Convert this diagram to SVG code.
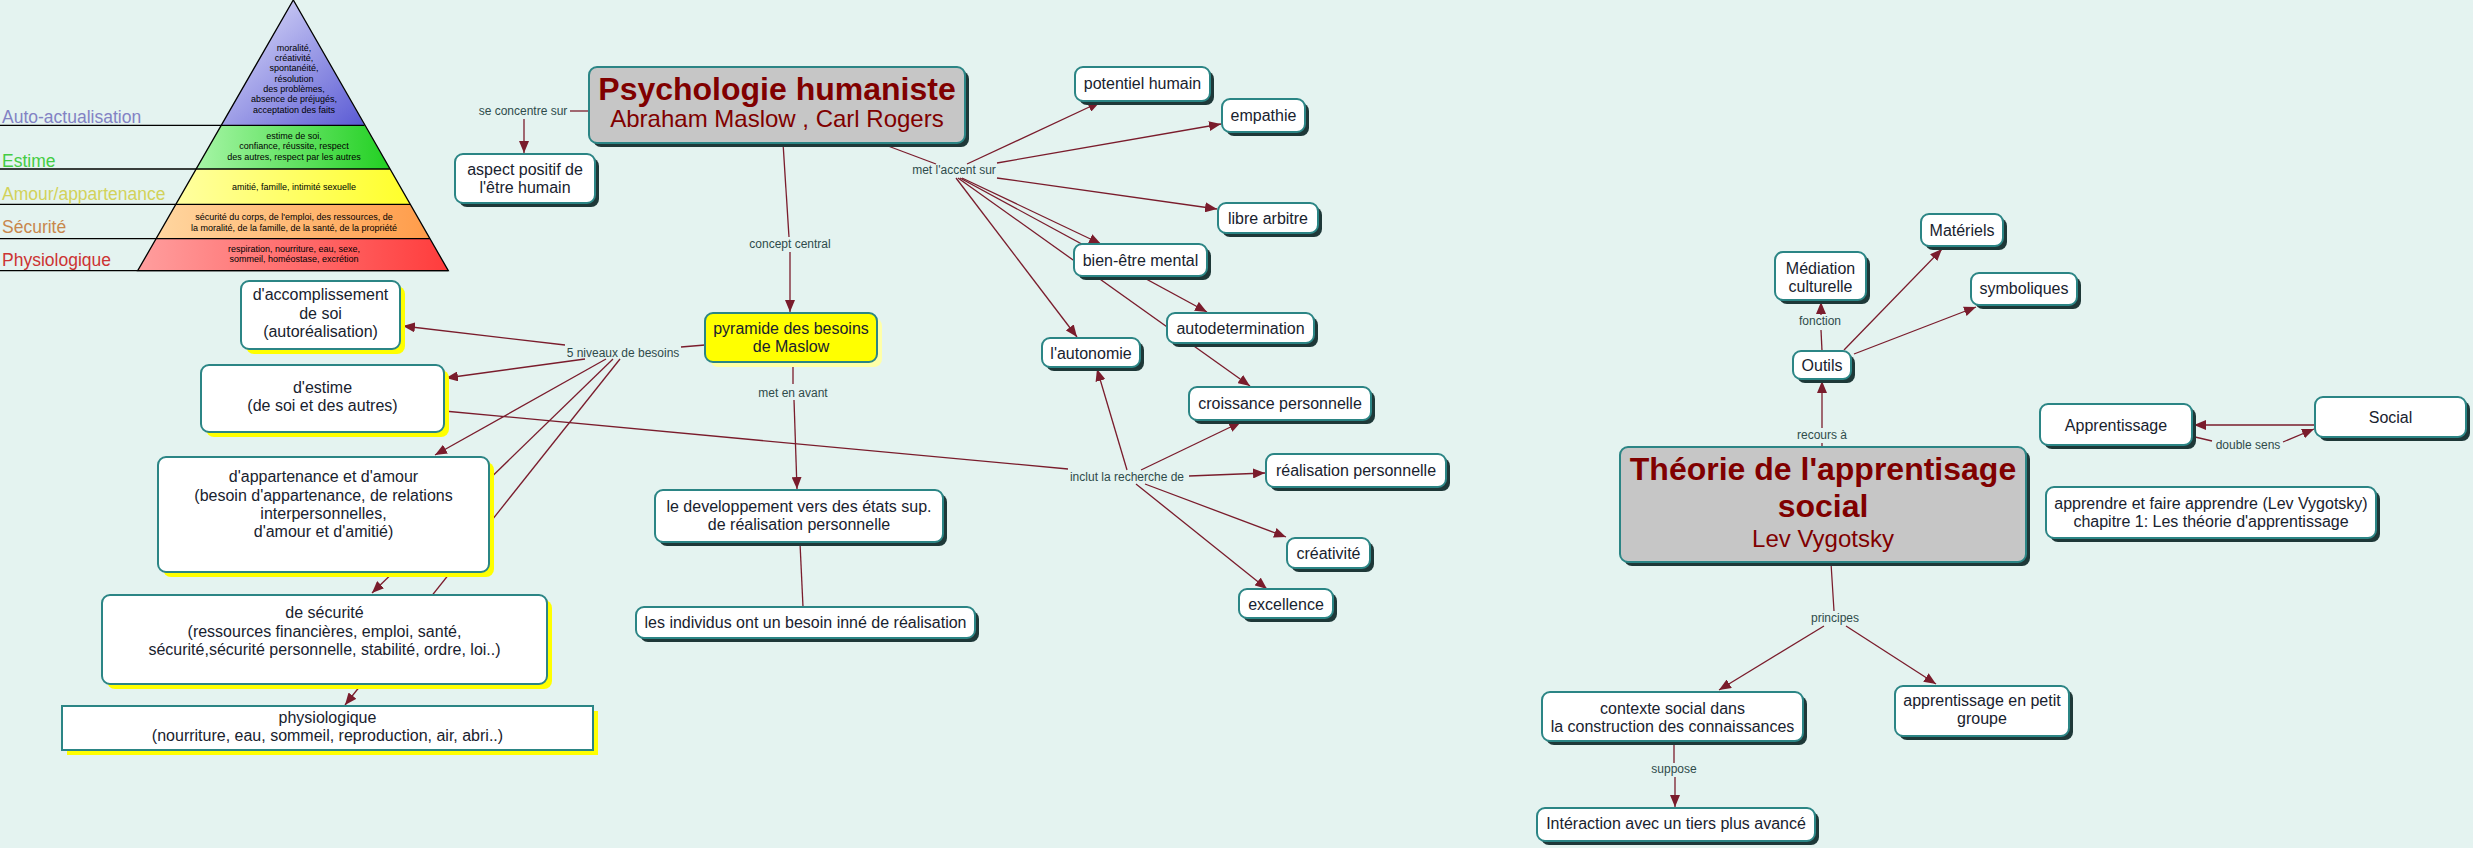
<svg xmlns="http://www.w3.org/2000/svg" width="2473" height="848" viewBox="0 0 2473 848">
<defs>
<style>
.sh{fill:#1e3838}
.ys{fill:#ffff00}
.pys{fill:#ffffa8}
.box{fill:#ffffff;stroke:#2b8585;stroke-width:2}
.gray{fill:#c6c6c6}
.yel{fill:#ffff00}
.t{font-family:"Liberation Sans",Arial,sans-serif;font-size:16px;fill:#18222e;text-anchor:middle}
.ti{font-family:"Liberation Sans",Arial,sans-serif;font-size:32px;font-weight:bold;fill:#800000;text-anchor:middle}
.st{font-family:"Liberation Sans",Arial,sans-serif;font-size:24px;fill:#800000;text-anchor:middle}
.lb{font-family:"Liberation Sans",Arial,sans-serif;font-size:12px;fill:#2f4b4b;text-anchor:middle}
.c{fill:none;stroke:#7a1c2c;stroke-width:1.3}
.a{marker-end:url(#ah)}
.pt{font-family:"Liberation Sans",Arial,sans-serif;font-size:9px;fill:#000;text-anchor:middle}
.pl{font-family:"Liberation Sans",Arial,sans-serif;font-size:17.5px}
.bl{stroke:#000;stroke-width:1.3}
</style>
<marker id="ah" viewBox="0 0 12 10" refX="12" refY="5" markerWidth="12" markerHeight="10" markerUnits="userSpaceOnUse" orient="auto"><path d="M0,0 L12,5 L0,10 z" fill="#7a1c2c"/></marker>
<linearGradient id="gP" x1="0" y1="0" x2="1" y2="1"><stop offset="0" stop-color="#e4e4fb"/><stop offset="1" stop-color="#5a5ad4"/></linearGradient>
<linearGradient id="gG" x1="0" y1="0" x2="1" y2="0"><stop offset="0" stop-color="#a6f5a6"/><stop offset="1" stop-color="#22d022"/></linearGradient>
<linearGradient id="gY" x1="0" y1="0" x2="1" y2="0"><stop offset="0" stop-color="#ffffa0"/><stop offset="1" stop-color="#ffff2a"/></linearGradient>
<linearGradient id="gO" x1="0" y1="0" x2="1" y2="0"><stop offset="0" stop-color="#ffd6a0"/><stop offset="1" stop-color="#ff9c4a"/></linearGradient>
<linearGradient id="gR" x1="0" y1="0" x2="1" y2="0"><stop offset="0" stop-color="#ff9e9e"/><stop offset="1" stop-color="#ff3c3c"/></linearGradient>
</defs>
<rect x="0" y="0" width="2473" height="848" fill="#e4f3f0"/>

<g id="pyramid">
<polygon points="293.3,0 364.5,125.3 221.3,125.3" fill="url(#gP)"/>
<polygon points="221.3,125.3 364.5,125.3 389.9,169 196.5,169" fill="url(#gG)"/>
<polygon points="196.5,169 389.9,169 410,204.3 175.9,204.3" fill="url(#gY)"/>
<polygon points="175.9,204.3 410,204.3 429.7,238.7 156.4,238.7" fill="url(#gO)"/>
<polygon points="156.4,238.7 429.7,238.7 448.3,270.7 137.7,270.7" fill="url(#gR)"/>
<polygon points="293.3,0 448.3,270.7 137.7,270.7" fill="none" stroke="#000" stroke-width="1.3"/>
<line class="bl" x1="0" y1="125.3" x2="364.5" y2="125.3"/>
<line class="bl" x1="0" y1="169" x2="389.9" y2="169"/>
<line class="bl" x1="0" y1="204.3" x2="410" y2="204.3"/>
<line class="bl" x1="0" y1="238.7" x2="429.7" y2="238.7"/>
<line class="bl" x1="0" y1="270.7" x2="448.3" y2="270.7"/>
<text class="pl" x="2" y="123" fill="#8282c4">Auto-actualisation</text>
<text class="pl" x="2" y="166.5" fill="#44cc44">Estime</text>
<text class="pl" x="2" y="200" fill="#d2d25a">Amour/appartenance</text>
<text class="pl" x="2" y="233" fill="#c8874c">Sécurité</text>
<text class="pl" x="2" y="265.5" fill="#cc3333">Physiologique</text>
<text class="pt" x="294" y="50.7">moralité,</text>
<text class="pt" x="294" y="61">créativité,</text>
<text class="pt" x="294" y="71.3">spontanéité,</text>
<text class="pt" x="294" y="81.7">résolution</text>
<text class="pt" x="294" y="92">des problèmes,</text>
<text class="pt" x="294" y="102.3">absence de préjugés,</text>
<text class="pt" x="294" y="112.7">acceptation des faits</text>
<text class="pt" x="294" y="139">estime de soi,</text>
<text class="pt" x="294" y="149.3">confiance, réussite, respect</text>
<text class="pt" x="294" y="159.7">des autres, respect par les autres</text>
<text class="pt" x="294" y="190">amitié, famille, intimité sexuelle</text>
<text class="pt" x="294" y="220">sécurité du corps, de l'emploi, des ressources, de</text>
<text class="pt" x="294" y="230.7">la moralité, de la famille, de la santé, de la propriété</text>
<text class="pt" x="294" y="251.7">respiration, nourriture, eau, sexe,</text>
<text class="pt" x="294" y="262.3">sommeil, homéostase, excrétion</text>
</g>

<g id="connectors">
<line class="c" x1="589" y1="111" x2="570" y2="111"/>
<text class="lb" x="523" y="115">se concentre sur</text>
<line class="c a" x1="524" y1="119" x2="524" y2="153"/>

<line class="c" x1="783" y1="143" x2="789" y2="237"/>
<text class="lb" x="790" y="247.5">concept central</text>
<line class="c a" x1="790" y1="252" x2="790" y2="312"/>

<line class="c" x1="888" y1="146" x2="936" y2="164"/>
<text class="lb" x="954" y="174">met l'accent sur</text>
<line class="c a" x1="967" y1="164" x2="1100" y2="102"/>
<line class="c a" x1="997" y1="163" x2="1221" y2="124"/>
<line class="c a" x1="997" y1="178" x2="1217" y2="209"/>
<line class="c a" x1="962" y1="178" x2="1101" y2="244"/>
<line class="c a" x1="960" y1="178" x2="1207" y2="312"/>
<line class="c a" x1="958" y1="178" x2="1250" y2="386"/>
<line class="c a" x1="956" y1="178" x2="1077" y2="337"/>

<line class="c" x1="793" y1="364" x2="793" y2="384"/>
<text class="lb" x="793" y="397">met en avant</text>
<line class="c a" x1="794" y1="400" x2="797" y2="489"/>
<line class="c" x1="800" y1="543" x2="803" y2="607"/>

<line class="c" x1="705" y1="345" x2="681" y2="347"/>
<text class="lb" x="623" y="357">5 niveaux de besoins</text>
<line class="c a" x1="565" y1="345" x2="403" y2="326"/>
<line class="c a" x1="585" y1="359" x2="446" y2="378"/>
<line class="c a" x1="606" y1="359" x2="435" y2="455"/>
<line class="c a" x1="613" y1="359" x2="372" y2="593"/>
<line class="c a" x1="620" y1="359" x2="345" y2="705"/>

<line class="c" x1="444" y1="411" x2="1068" y2="469"/>
<text class="lb" x="1127" y="481">inclut la recherche de</text>
<line class="c a" x1="1127" y1="470" x2="1097" y2="369"/>
<line class="c a" x1="1141" y1="470" x2="1241" y2="422"/>
<line class="c a" x1="1189" y1="476" x2="1265" y2="473"/>
<line class="c a" x1="1145" y1="484" x2="1286" y2="537"/>
<line class="c a" x1="1136" y1="484" x2="1267" y2="589"/>

<line class="c" x1="1822" y1="447" x2="1822" y2="443"/>
<text class="lb" x="1822" y="439">recours à</text>
<line class="c a" x1="1822" y1="428" x2="1822" y2="381"/>
<line class="c" x1="1822" y1="351" x2="1821" y2="330"/>
<text class="lb" x="1820" y="325">fonction</text>
<line class="c a" x1="1821" y1="315" x2="1821" y2="302"/>
<line class="c a" x1="1844" y1="350" x2="1942" y2="249"/>
<line class="c a" x1="1854" y1="354" x2="1976" y2="307"/>

<line class="c a" x1="2314" y1="425" x2="2194" y2="425"/>
<line class="c" x1="2195" y1="437" x2="2212" y2="441"/>
<text class="lb" x="2248" y="449">double sens</text>
<line class="c a" x1="2283" y1="442" x2="2314" y2="429"/>

<line class="c" x1="1831" y1="563" x2="1834" y2="611"/>
<text class="lb" x="1835" y="622">principes</text>
<line class="c a" x1="1824" y1="626" x2="1719" y2="690"/>
<line class="c a" x1="1846" y1="626" x2="1936" y2="684"/>

<line class="c" x1="1674" y1="744" x2="1674" y2="763"/>
<text class="lb" x="1674" y="773">suppose</text>
<line class="c a" x1="1675" y1="777" x2="1675" y2="807"/>
</g>

<g id="n-psych"><rect class="sh" x="593" y="71" width="376" height="76" rx="8"/><rect class="box gray" x="589" y="67" width="376" height="76" rx="8"/><text class="ti" x="777" y="100">Psychologie humaniste</text><text class="st" x="777" y="127">Abraham Maslow , Carl Rogers</text></g>
<g id="n-aspect"><rect class="sh" x="459" y="158" width="140" height="49" rx="8"/><rect class="box" x="455" y="154" width="140" height="49" rx="8"/><text class="t" x="525" y="175">aspect positif de</text><text class="t" x="525" y="193">l'être humain</text></g>
<g id="n-potentiel"><rect class="sh" x="1079" y="71" width="135" height="34" rx="8"/><rect class="box" x="1075" y="67" width="135" height="34" rx="8"/><text class="t" x="1142.5" y="89">potentiel humain</text></g>
<g id="n-empathie"><rect class="sh" x="1226" y="103" width="83" height="33" rx="8"/><rect class="box" x="1222" y="99" width="83" height="33" rx="8"/><text class="t" x="1263.5" y="121">empathie</text></g>
<g id="n-libre"><rect class="sh" x="1222" y="207" width="100" height="30" rx="8"/><rect class="box" x="1218" y="203" width="100" height="30" rx="8"/><text class="t" x="1268" y="224">libre arbitre</text></g>
<g id="n-bienetre"><rect class="sh" x="1078" y="248" width="133" height="32" rx="8"/><rect class="box" x="1074" y="244" width="133" height="32" rx="8"/><text class="t" x="1140.5" y="266">bien-être mental</text></g>
<g id="n-autodet"><rect class="sh" x="1171" y="317" width="147" height="30" rx="8"/><rect class="box" x="1167" y="313" width="147" height="30" rx="8"/><text class="t" x="1240.5" y="334">autodetermination</text></g>
<g id="n-autonomie"><rect class="sh" x="1046" y="342" width="98" height="29" rx="8"/><rect class="box" x="1042" y="338" width="98" height="29" rx="8"/><text class="t" x="1091" y="359">l'autonomie</text></g>
<g id="n-croissance"><rect class="sh" x="1193" y="391" width="182" height="33" rx="8"/><rect class="box" x="1189" y="387" width="182" height="33" rx="8"/><text class="t" x="1280" y="409">croissance personnelle</text></g>
<g id="n-realisation"><rect class="sh" x="1270" y="458" width="180" height="33" rx="8"/><rect class="box" x="1266" y="454" width="180" height="33" rx="8"/><text class="t" x="1356" y="476">réalisation personnelle</text></g>
<g id="n-creativite"><rect class="sh" x="1291" y="542" width="83" height="30" rx="8"/><rect class="box" x="1287" y="538" width="83" height="30" rx="8"/><text class="t" x="1328.5" y="559">créativité</text></g>
<g id="n-excellence"><rect class="sh" x="1243" y="593" width="94" height="29" rx="8"/><rect class="box" x="1239" y="589" width="94" height="29" rx="8"/><text class="t" x="1286" y="610">excellence</text></g>
<g id="n-pyramide"><rect class="pys" x="710" y="318" width="172" height="49" rx="8"/><rect class="box yel" x="705" y="313" width="172" height="49" rx="8"/><text class="t" x="791" y="334">pyramide des besoins</text><text class="t" x="791" y="352">de Maslow</text></g>
<g id="n-developpement"><rect class="sh" x="659" y="494" width="288" height="52" rx="8"/><rect class="box" x="655" y="490" width="288" height="52" rx="8"/><text class="t" x="799" y="512">le developpement vers des états sup.</text><text class="t" x="799" y="530">de réalisation personnelle</text></g>
<g id="n-individus"><rect class="sh" x="640" y="611" width="339" height="31" rx="8"/><rect class="box" x="636" y="607" width="339" height="31" rx="8"/><text class="t" x="805.5" y="628">les individus ont un besoin inné de réalisation</text></g>
<g id="n-accomplissement"><rect class="ys" x="246" y="286" width="159" height="68" rx="8"/><rect class="box" x="241" y="281" width="159" height="68" rx="8"/><text class="t" x="320.5" y="300">d'accomplissement</text><text class="t" x="320.5" y="318.5">de soi</text><text class="t" x="320.5" y="337">(autoréalisation)</text></g>
<g id="n-estime"><rect class="ys" x="206" y="370" width="243" height="67" rx="8"/><rect class="box" x="201" y="365" width="243" height="67" rx="8"/><text class="t" x="322.5" y="393">d'estime</text><text class="t" x="322.5" y="411">(de soi et des autres)</text></g>
<g id="n-appartenance"><rect class="ys" x="163" y="462" width="331" height="115" rx="8"/><rect class="box" x="158" y="457" width="331" height="115" rx="8"/><text class="t" x="323.5" y="482">d'appartenance et d'amour</text><text class="t" x="323.5" y="500.5">(besoin d'appartenance, de relations</text><text class="t" x="323.5" y="519">interpersonnelles,</text><text class="t" x="323.5" y="537">d'amour et d'amitié)</text></g>
<g id="n-securite"><rect class="ys" x="107" y="600" width="445" height="89" rx="8"/><rect class="box" x="102" y="595" width="445" height="89" rx="8"/><text class="t" x="324.5" y="618">de sécurité</text><text class="t" x="324.5" y="636.5">(ressources financières, emploi, santé,</text><text class="t" x="324.5" y="655">sécurité,sécurité personnelle, stabilité, ordre, loi..)</text></g>
<g id="n-physiologique"><rect class="ys" x="67" y="711" width="531" height="44"/><rect class="box" x="62" y="706" width="531" height="44"/><text class="t" x="327.5" y="723">physiologique</text><text class="t" x="327.5" y="741">(nourriture, eau, sommeil, reproduction, air, abri..)</text></g>

<g id="n-mediation"><rect class="sh" x="1779" y="256" width="91" height="48" rx="8"/><rect class="box" x="1775" y="252" width="91" height="48" rx="8"/><text class="t" x="1820.5" y="274">Médiation</text><text class="t" x="1820.5" y="292">culturelle</text></g>
<g id="n-materiels"><rect class="sh" x="1925" y="218" width="82" height="32" rx="8"/><rect class="box" x="1921" y="214" width="82" height="32" rx="8"/><text class="t" x="1962" y="236">Matériels</text></g>
<g id="n-symboliques"><rect class="sh" x="1975" y="277" width="106" height="32" rx="8"/><rect class="box" x="1971" y="273" width="106" height="32" rx="8"/><text class="t" x="2024" y="294">symboliques</text></g>
<g id="n-outils"><rect class="sh" x="1797" y="355" width="58" height="28" rx="8"/><rect class="box" x="1793" y="351" width="58" height="28" rx="8"/><text class="t" x="1822" y="371">Outils</text></g>
<g id="n-theorie"><rect class="sh" x="1624" y="451" width="406" height="115" rx="8"/><rect class="box gray" x="1620" y="447" width="406" height="115" rx="8"/><text class="ti" x="1823" y="480">Théorie de l'apprentisage</text><text class="ti" x="1823" y="517">social</text><text class="st" x="1823" y="547">Lev Vygotsky</text></g>
<g id="n-apprentissage"><rect class="sh" x="2044" y="408" width="152" height="41" rx="8"/><rect class="box" x="2040" y="404" width="152" height="41" rx="8"/><text class="t" x="2116" y="431">Apprentissage</text></g>
<g id="n-social"><rect class="sh" x="2319" y="401" width="151" height="40" rx="8"/><rect class="box" x="2315" y="397" width="151" height="40" rx="8"/><text class="t" x="2390.5" y="423">Social</text></g>
<g id="n-apprendre"><rect class="sh" x="2050" y="491" width="330" height="51" rx="8"/><rect class="box" x="2046" y="487" width="330" height="51" rx="8"/><text class="t" x="2211" y="509">apprendre et faire apprendre (Lev Vygotsky)</text><text class="t" x="2211" y="527">chapitre 1: Les théorie d'apprentissage</text></g>
<g id="n-contexte"><rect class="sh" x="1546" y="696" width="261" height="49" rx="8"/><rect class="box" x="1542" y="692" width="261" height="49" rx="8"/><text class="t" x="1672.5" y="714">contexte social dans</text><text class="t" x="1672.5" y="732">la construction des connaissances</text></g>
<g id="n-groupe"><rect class="sh" x="1899" y="690" width="174" height="50" rx="8"/><rect class="box" x="1895" y="686" width="174" height="50" rx="8"/><text class="t" x="1982" y="706">apprentissage en petit</text><text class="t" x="1982" y="724">groupe</text></g>
<g id="n-interaction"><rect class="sh" x="1541" y="812" width="278" height="33" rx="8"/><rect class="box" x="1537" y="808" width="278" height="33" rx="8"/><text class="t" x="1676" y="829">Intéraction avec un tiers plus avancé</text></g>
</svg>
